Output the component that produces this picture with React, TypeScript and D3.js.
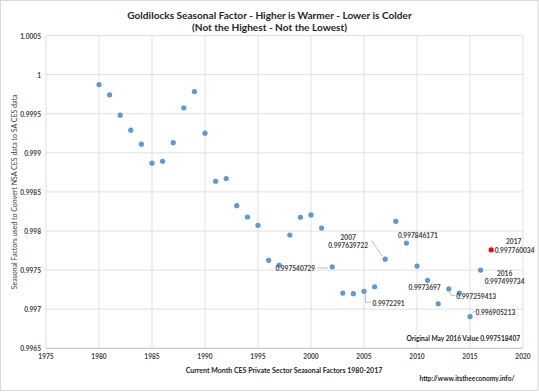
import * as d3 from "d3";

// CES private sector seasonal factors, current month, 1980-2017
const years = [
  1980, 1981, 1982, 1983, 1984, 1985, 1986, 1987, 1988, 1989,
  1990, 1991, 1992, 1993, 1994, 1995, 1996, 1997, 1998, 1999,
  2000, 2001, 2002, 2003, 2004, 2005, 2006, 2007, 2008, 2009,
  2010, 2011, 2012, 2013, 2014, 2015, 2016, 2017,
];
const factors = [
  0.999873, 0.999741, 0.999481, 0.999289, 0.99911, 0.998867, 0.998892, 0.99913, 0.999575, 0.999783,
  0.999251, 0.998636, 0.99867, 0.998324, 0.998179, 0.998073, 0.997625, 0.997565, 0.997949, 0.998176,
  0.998205, 0.998038, 0.997540729, 0.997206, 0.997198, 0.99722912, 0.997287, 0.997639722, 0.998124, 0.997846171,
  0.997552, 0.9973697, 0.99707, 0.997259413, 0.997206, 0.996905213, 0.997499734, 0.997760034,
];
const highlightYear = 2017;

const xTicks = [1975, 1980, 1985, 1990, 1995, 2000, 2005, 2010, 2015, 2020];
const yTicks = [0.9965, 0.997, 0.9975, 0.998, 0.9985, 0.999, 0.9995, 1, 1.0005];

const callouts = [
  { year: 2002, title: "", text: "0.997540729" },
  { year: 2005, title: "", text: "0.9972291" },
  { year: 2007, title: "2007", text: "0.997639722" },
  { year: 2009, title: "", text: "0.997846171" },
  { year: 2011, title: "", text: "0.9973697" },
  { year: 2013, title: "", text: "0.997259413" },
  { year: 2015, title: "", text: "0.996905213" },
  { year: 2016, title: "2016", text: "0.997499734" },
  { year: 2017, title: "2017", text: "0.997760034" },
];

const titleLines = [
  "Goldilocks Seasonal Factor - Higher is Warmer - Lower is Colder",
  "(Not the Highest - Not the Lowest)",
];
const xTitle = "Current Month CES Private Sector Seasonal Factors 1980-2017";
const yTitle = "Seasonal Factors used to Convert NSA CES data to SA CES data";
const noteText = "Original May 2016 Value 0.997518407";
const sourceText = "http://www.itstheeconomy.info/";

// label placement relative to the dot (text anchor point, leader points)
const placement: Record<number, { dx: number; dy: number; anchor: string; titleDx?: number; leader?: [number, number][] }> = {
  2002: { dx: -17, dy: 1, anchor: "end", leader: [[-4, 1], [-15, 1]] },
  2005: { dx: 8.5, dy: 12, anchor: "start", leader: [[1.5, 3], [1.5, 11], [7, 11]] },
  2007: { dx: -37, dy: -14, anchor: "middle", leader: [[-3, -3], [-14, -19]] },
  2009: { dx: 11.5, dy: -8, anchor: "middle" },
  2011: { dx: -3, dy: 7, anchor: "middle" },
  2013: { dx: 7.5, dy: 7, anchor: "start", leader: [[0.5, 3], [2, 6.5], [6.5, 6.5]] },
  2015: { dx: 5.5, dy: -5, anchor: "start", leader: [[1, -2], [3.5, -5], [5, -5]] },
  2016: { dx: 24, dy: 11, anchor: "middle" },
  2017: { dx: 3.5, dy: 0, anchor: "start", titleDx: 22.5 },
};

const W = 539;
const H = 392;
const M = { left: 46, right: 523, top: 35.5, bottom: 348.3 };
const FONT = "Lato, 'Open Sans', sans-serif";
const BLUE = "#5b9bd5";

export default function App() {
  const x = d3.scaleLinear([1975, 2020], [M.left, M.right]);
  const y = d3.scaleLinear([0.9965, 1.0005], [M.bottom, M.top]);
  const leader = d3.line();
  const fmtY = (v: number) => String(+v.toFixed(4));

  return (
    <svg width={W} height={H} style={{ position: "absolute", left: 0, top: 0, background: "#fff" }} fontFamily={FONT}>
      <rect x={0.5} y={0.5} width={W - 1.5} height={H - 2} fill="#fff" stroke="#d9d9d9" />

      {/* gridlines */}
      <g stroke="#d9d9d9" strokeWidth={0.8}>
        {yTicks.map((t) => (
          <line key={"h" + t} x1={M.left} x2={M.right} y1={y(t)} y2={y(t)} />
        ))}
        {xTicks.map((t) => (
          <line key={"v" + t} x1={x(t)} x2={x(t)} y1={M.top} y2={M.bottom} />
        ))}
      </g>
      <line x1={M.left} x2={M.right} y1={M.bottom} y2={M.bottom} stroke="#bfbfbf" strokeWidth={0.8} />

      {/* tick labels */}
      <g fontSize={6.6} fill="#404040" fontWeight={700}>
        {yTicks.map((t) => (
          <text key={"yl" + t} x={M.left - 5} y={y(t)} textAnchor="end" dominantBaseline="central">
            {fmtY(t)}
          </text>
        ))}
        {xTicks.map((t) => (
          <text key={"xl" + t} x={x(t)} y={355.5} textAnchor="middle" dominantBaseline="central">
            {t}
          </text>
        ))}
      </g>

      {/* titles */}
      <g fontWeight={700} fill="#262626" textAnchor="middle" fontSize={10.1}>
        {titleLines.map((l, i) => (
          <text key={l} x={269.5} y={14.5 + i * 12.2} dominantBaseline="central">
            {l}
          </text>
        ))}
      </g>
      <text x={284} y={369.5} textAnchor="middle" dominantBaseline="central" fontSize={7} fontWeight={700} fill="#262626">
        {xTitle}
      </text>
      <text
        transform={`translate(13.5,${(M.top + M.bottom) / 2}) rotate(-90)`}
        textAnchor="middle"
        dominantBaseline="central"
        fontSize={7}
        fill="#404040"
      >
        {yTitle}
      </text>
      <text x={467} y={377.7} textAnchor="middle" dominantBaseline="central" fontSize={6.6} fontWeight={700} fill="#262626">
        {sourceText}
      </text>
      <text x={463.3} y={338.3} textAnchor="middle" dominantBaseline="central" fontSize={6.6} fontWeight={700} fill="#262626">
        {noteText}
      </text>

      {/* points */}
      <g>
        {years.map((yr, i) => (
          <circle
            key={yr}
            cx={x(yr)}
            cy={y(factors[i])}
            r={2.6}
            fill={yr === highlightYear ? "#ff0000" : BLUE}
          />
        ))}
      </g>

      {/* callouts */}
      <g fontSize={6.6} fill="#404040" fontWeight={700}>
        {callouts.map((c) => {
          const i = years.indexOf(c.year);
          const px = x(c.year);
          const py = y(factors[i]);
          const p = placement[c.year];
          return (
            <g key={c.year}>
              {p.leader && (
                <path
                  d={leader(p.leader.map(([a, b]) => [px + a, py + b]) as [number, number][]) || ""}
                  fill="none"
                  stroke="#a6a6a6"
                  strokeWidth={0.7}
                />
              )}
              {c.title && (
                <text
                  x={px + (p.titleDx ?? p.dx)}
                  y={py + p.dy - 8.5}
                  textAnchor="middle"
                  dominantBaseline="central"
                >
                  {c.title}
                </text>
              )}
              <text x={px + p.dx} y={py + p.dy} textAnchor={p.anchor} dominantBaseline="central">
                {c.text}
              </text>
            </g>
          );
        })}
      </g>
    </svg>
  );
}
